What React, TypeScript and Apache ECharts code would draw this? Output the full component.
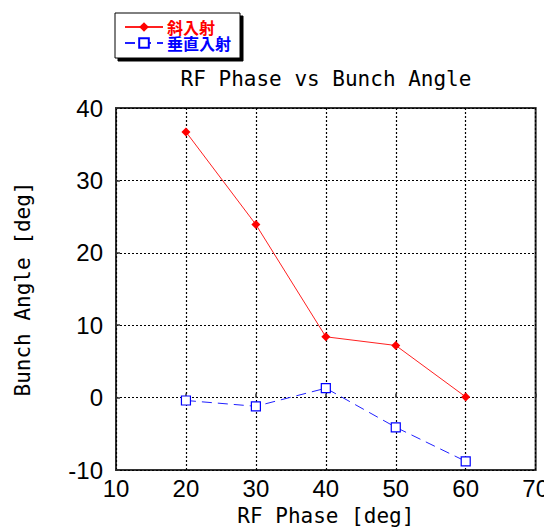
import React, { useEffect, useRef } from "react";
import * as echarts from "echarts";

const rfPhase = [20, 30, 40, 50, 60];
const obliqueName = "斜入射";
const normalName = "垂直入射";
const obliqueValues = [36.7, 23.9, 8.4, 7.2, 0.1];
const normalValues = [-0.4, -1.2, 1.3, -4.1, -8.8];
const titleText = "RF Phase vs Bunch Angle";
const xAxisName = "RF Phase [deg]";
const yAxisName = "Bunch Angle [deg]";

const mono = "'DejaVu Sans Mono', monospace";
const narrow = "'Liberation Sans Narrow', 'Liberation Sans', Arial, sans-serif";
const cjk = "'Noto Sans CJK JP', sans-serif";

export default function App() {
  const ref = useRef<HTMLDivElement>(null);
  useEffect(() => {
    if (!ref.current) return;
    const chart = echarts.init(ref.current, undefined, { renderer: "svg" });
    chart.setOption({
      animation: false,
      backgroundColor: "#ffffff",
      title: {
        text: titleText,
        left: 326,
        textAlign: "center",
        top: 68,
        padding: 0,
        textStyle: { fontFamily: mono, fontSize: 21, fontWeight: "normal", color: "#000" },
      },
      legend: {
        orient: "vertical",
        left: 115,
        top: 13,
        padding: [6, 9, 7, 9],
        itemGap: 0,
        itemWidth: 38,
        itemHeight: 12,
        backgroundColor: "#ffffff",
        borderColor: "#000",
        borderWidth: 1,
        shadowColor: "#000",
        shadowBlur: 0,
        shadowOffsetX: 3,
        shadowOffsetY: 3,
        textStyle: { fontFamily: cjk, fontSize: 16, fontWeight: "bold", lineHeight: 16, padding: [0, 0, 0, -1] },
        data: [
          { name: obliqueName, textStyle: { color: "#ff0000" } },
          { name: normalName, textStyle: { color: "#0000ff" } },
        ],
      },
      grid: {
        left: 116,
        top: 108,
        right: 14,
        bottom: 61,
        show: true,
        borderColor: "#333",
        borderWidth: 2,
        backgroundColor: "transparent",
      },
      xAxis: {
        type: "value",
        min: 10,
        max: 70,
        interval: 10,
        name: xAxisName,
        nameLocation: "middle",
        nameGap: 35,
        nameTextStyle: { fontFamily: mono, fontSize: 21, color: "#000" },
        axisLine: { show: false },
        axisTick: { show: true, inside: true, length: 4, lineStyle: { color: "#333", width: 1.5 } },
        axisLabel: { fontFamily: narrow, fontSize: 24, color: "#000", margin: 6 },
        splitLine: { show: true, lineStyle: { color: "#000", type: [2, 2], width: 1.2 } },
      },
      yAxis: {
        type: "value",
        min: -10,
        max: 40,
        interval: 10,
        name: yAxisName,
        nameLocation: "middle",
        nameGap: 83,
        nameTextStyle: { fontFamily: mono, fontSize: 21, color: "#000" },
        axisLine: { show: false },
        axisTick: { show: true, inside: true, length: 4, lineStyle: { color: "#333", width: 1.5 } },
        axisLabel: { fontFamily: narrow, fontSize: 24, color: "#000", margin: 13 },
        splitLine: { show: true, lineStyle: { color: "#000", type: [2, 2], width: 1.2 } },
      },
      series: [
        {
          name: obliqueName,
          type: "line",
          data: rfPhase.map((x, i) => [x, obliqueValues[i]]),
          symbol: "diamond",
          symbolSize: 9,
          itemStyle: { color: "#ff0000" },
          lineStyle: { color: "#ff2020", width: 1 },
        },
        {
          name: normalName,
          type: "line",
          data: rfPhase.map((x, i) => [x, normalValues[i]]),
          symbol: "rect",
          symbolSize: 9,
          itemStyle: { color: "#ffffff", borderColor: "#0000ff", borderWidth: 1.2 },
          lineStyle: { color: "#2020ff", width: 1, type: [10, 6] },
        },
      ],
    });
    return () => chart.dispose();
  }, []);
  return <div ref={ref} style={{ width: 552, height: 531, marginLeft: -8, marginTop: -8 }} />;
}
